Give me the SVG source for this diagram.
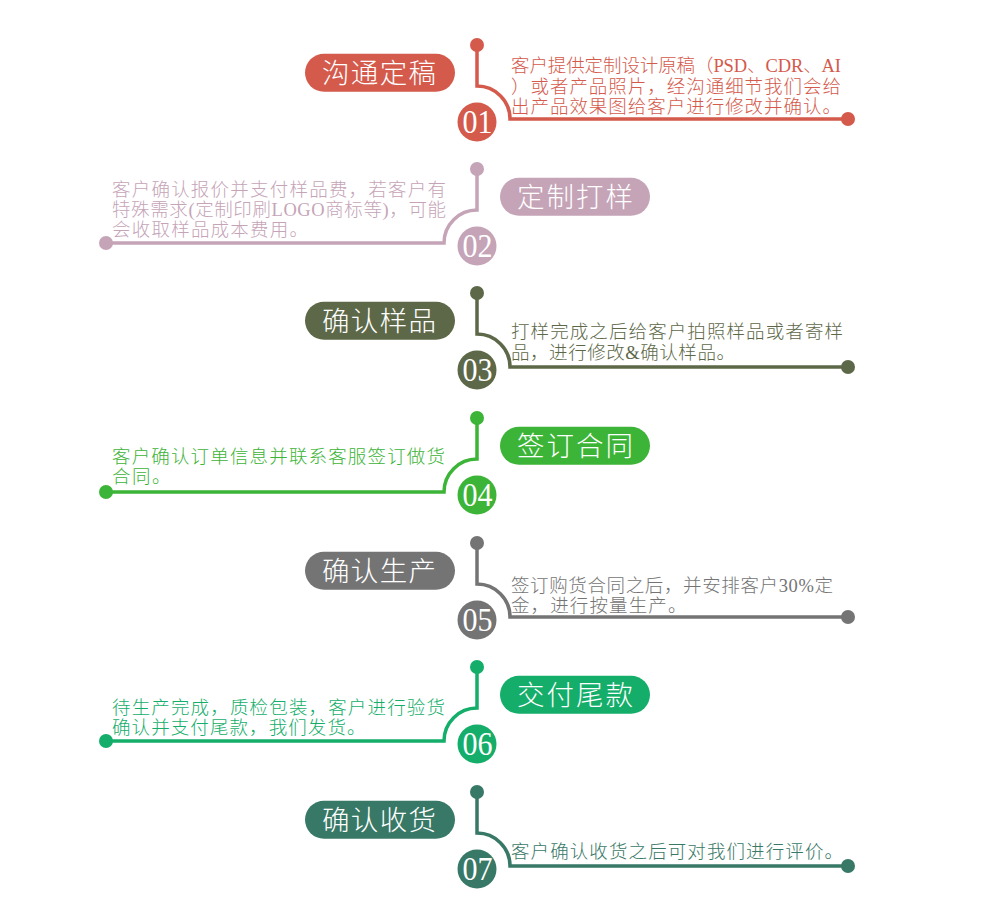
<svg xmlns="http://www.w3.org/2000/svg" width="1000" height="907" viewBox="0 0 1000 907">
<style>
.t{font-family:"Noto Sans CJK SC",sans-serif;font-size:27.5px;font-weight:300;fill:#fff}
.d{font-family:"Liberation Serif","Noto Sans CJK SC",serif;font-size:18.5px;font-weight:300}
.n{font-family:"Liberation Serif",serif;font-size:33px;fill:#fff;text-anchor:middle}
.ln{fill:none;stroke-width:3.5}
.c1{fill:#d45a4c}.s1{stroke:#d45a4c}
.c2{fill:#c5a4b7}.s2{stroke:#c5a4b7}
.c3{fill:#5d6848}.s3{stroke:#5d6848}
.c4{fill:#3cb437}.s4{stroke:#3cb437}
.c5{fill:#747474}.s5{stroke:#747474}
.c6{fill:#14ae6a}.s6{stroke:#14ae6a}
.c7{fill:#387866}.s7{stroke:#387866}
</style>
<rect width="1000" height="907" fill="#fff"/>
<g id="connectors">
  <path class="ln s1" d="M477 45 V86 A33 33 0 0 1 510 119 H848"/>
  <circle class="c1" cx="477" cy="45" r="7"/><circle class="c1" cx="848" cy="119" r="7"/>
  <path class="ln s2" d="M477 169 V210 A33 33 0 0 0 444 243 H106"/>
  <circle class="c2" cx="477" cy="169" r="7"/><circle class="c2" cx="106" cy="243" r="7"/>
  <path class="ln s3" d="M477 293 V334 A33 33 0 0 1 510 367 H848"/>
  <circle class="c3" cx="477" cy="293" r="7"/><circle class="c3" cx="848" cy="367" r="7"/>
  <path class="ln s4" d="M477 418 V459 A33 33 0 0 0 444 492 H106"/>
  <circle class="c4" cx="477" cy="418" r="7"/><circle class="c4" cx="106" cy="492" r="7"/>
  <path class="ln s5" d="M477 543 V584 A33 33 0 0 1 510 617 H848"/>
  <circle class="c5" cx="477" cy="543" r="7"/><circle class="c5" cx="848" cy="617" r="7"/>
  <path class="ln s6" d="M477 667 V708 A33 33 0 0 0 444 741 H106"/>
  <circle class="c6" cx="477" cy="667" r="7"/><circle class="c6" cx="106" cy="741" r="7"/>
  <path class="ln s7" d="M477 792 V833 A33 33 0 0 1 510 866 H848"/>
  <circle class="c7" cx="477" cy="792" r="7"/><circle class="c7" cx="848" cy="866" r="7"/>
</g>
<g id="step1">
  <rect class="c1" x="305" y="53.7" width="150" height="38" rx="19"/>
  <text class="t" x="322" y="83" textLength="114">沟通定稿</text>
  <circle class="c1" cx="477" cy="122" r="19.5"/>
  <text class="n" x="477.5" y="133" textLength="30" lengthAdjust="spacingAndGlyphs">01</text>
  <g class="d c1">
    <text x="511" y="72" textLength="330">客户提供定制设计原稿（PSD、CDR、AI</text>
    <text x="511" y="92.5" textLength="330">）或者产品照片，经沟通细节我们会给</text>
    <text x="511" y="113" textLength="330">出产品效果图给客户进行修改并确认。</text>
  </g>
</g>
<g id="step2">
  <rect class="c2" x="500" y="177.7" width="150" height="38" rx="19"/>
  <text class="t" x="517" y="207" textLength="116">定制打样</text>
  <circle class="c2" cx="477" cy="246" r="19.5"/>
  <text class="n" x="477.5" y="257" textLength="30" lengthAdjust="spacingAndGlyphs">02</text>
  <g class="d c2">
    <text x="112" y="195.5" textLength="334">客户确认报价并支付样品费，若客户有</text>
    <text x="112" y="215.5" textLength="334">特殊需求(定制印刷LOGO商标等)，可能</text>
    <text x="112" y="235.5" textLength="196">会收取样品成本费用。</text>
  </g>
</g>
<g id="step3">
  <rect class="c3" x="305" y="301.7" width="150" height="38" rx="19"/>
  <text class="t" x="322" y="331" textLength="114">确认样品</text>
  <circle class="c3" cx="477" cy="370" r="19.5"/>
  <text class="n" x="477.5" y="381" textLength="30" lengthAdjust="spacingAndGlyphs">03</text>
  <g class="d c3">
    <text x="511" y="338" textLength="332">打样完成之后给客户拍照样品或者寄样</text>
    <text x="511" y="358.5" textLength="224">品，进行修改&amp;确认样品。</text>
  </g>
</g>
<g id="step4">
  <rect class="c4" x="500" y="426.7" width="150" height="38" rx="19"/>
  <text class="t" x="517" y="456" textLength="116">签订合同</text>
  <circle class="c4" cx="477" cy="495" r="19.5"/>
  <text class="n" x="477.5" y="506" textLength="30" lengthAdjust="spacingAndGlyphs">04</text>
  <g class="d c4">
    <text x="112" y="463" textLength="333">客户确认订单信息并联系客服签订做货</text>
    <text x="112" y="483" textLength="58.5">合同。</text>
  </g>
</g>
<g id="step5">
  <rect class="c5" x="305" y="551.7" width="150" height="38" rx="19"/>
  <text class="t" x="322" y="581" textLength="114">确认生产</text>
  <circle class="c5" cx="477" cy="620" r="19.5"/>
  <text class="n" x="477.5" y="631" textLength="30" lengthAdjust="spacingAndGlyphs">05</text>
  <g class="d c5">
    <text x="511" y="591.5" textLength="322">签订购货合同之后，并安排客户30%定</text>
    <text x="511" y="611.5" textLength="175.5">金，进行按量生产。</text>
  </g>
</g>
<g id="step6">
  <rect class="c6" x="500" y="675.7" width="150" height="38" rx="19"/>
  <text class="t" x="517" y="705" textLength="116">交付尾款</text>
  <circle class="c6" cx="477" cy="744" r="19.5"/>
  <text class="n" x="477.5" y="755" textLength="30" lengthAdjust="spacingAndGlyphs">06</text>
  <g class="d c6">
    <text x="112" y="713.5" textLength="333">待生产完成，质检包装，客户进行验货</text>
    <text x="112" y="734" textLength="253.5">确认并支付尾款，我们发货。</text>
  </g>
</g>
<g id="step7">
  <rect class="c7" x="305" y="800.7" width="150" height="38" rx="19"/>
  <text class="t" x="322" y="830" textLength="114">确认收货</text>
  <circle class="c7" cx="477" cy="869" r="19.5"/>
  <text class="n" x="477.5" y="880" textLength="30" lengthAdjust="spacingAndGlyphs">07</text>
  <g class="d c7">
    <text x="511" y="858" textLength="332">客户确认收货之后可对我们进行评价。</text>
  </g>
</g>
</svg>
